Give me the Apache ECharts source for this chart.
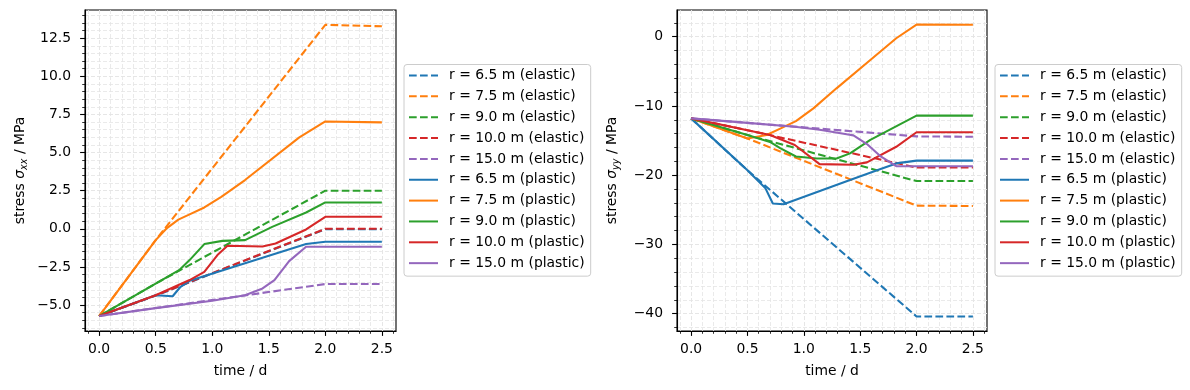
<!DOCTYPE html>
<html>
<head>
<meta charset="utf-8">
<script src="https://cdn.jsdelivr.net/npm/echarts@6/dist/echarts.min.js"></script>
<style>
html,body{margin:0;padding:0;background:#fff;}
#chart{width:1190px;height:390px;}
</style>
</head>
<body>
<div id="chart"></div>
<script>
// ---------- data ----------
const radii = ['6.5', '7.5', '9.0', '10.0', '15.0'];
const colors = ['#1f77b4', '#ff7f0e', '#2ca02c', '#d62728', '#9467bd'];

// time axis for the elastic solutions
const elasticTime = [0, 0.5, 2.0, 2.5];

// sigma_xx elastic
const sxxEl65 = [-5.72, -4.38, -0.02, -0.02];
const sxxEl75 = [-5.72, -0.74, 13.38, 13.28];
const sxxEl90 = [-5.72, -3.59, 2.50, 2.50];
const sxxEl100 = [-5.72, -4.36, 0.00, 0.00];
const sxxEl150 = [-5.72, -5.19, -3.62, -3.62];

// sigma_xx plastic
const sxxPl65T = [0, 0.5, 0.65, 0.72, 0.8, 1.83, 2.0, 2.5];
const sxxPl65 = [-5.72, -4.36, -4.42, -3.8, -3.41, -1.0, -0.85, -0.85];
const sxxPl75T = [0, 0.5, 0.6, 0.7, 0.8, 0.93, 1.08, 1.29, 1.77, 2.0, 2.5];
const sxxPl75 = [-5.72, -0.74, 0.05, 0.6, 0.95, 1.4, 2.1, 3.2, 6.0, 7.04, 6.98];
const sxxPl90T = [0, 0.5, 0.707, 0.8, 0.93, 1.09, 1.29, 1.53, 1.83, 2.0, 2.5];
const sxxPl90 = [-5.72, -3.59, -2.71, -2.05, -1.0, -0.79, -0.74, 0.13, 1.07, 1.73, 1.73];
const sxxPl100T = [0, 0.5, 0.8, 0.93, 1.046, 1.135, 1.445, 1.56, 1.83, 2.0, 2.5];
const sxxPl100 = [-5.72, -4.36, -3.36, -2.82, -1.72, -1.11, -1.16, -0.96, -0.04, 0.79, 0.79];
const sxxPl150T = [0, 0.5, 1.0, 1.29, 1.445, 1.55, 1.68, 1.83, 2.0, 2.5];
const sxxPl150 = [-5.72, -5.2, -4.72, -4.35, -3.91, -3.36, -2.12, -1.18, -1.18, -1.18];

// sigma_yy elastic
const syyEl65 = [-11.8, -19.3, -40.4, -40.4];
const syyEl75 = [-11.8, -14.7, -24.4, -24.45];
const syyEl90 = [-11.8, -14.2, -20.85, -20.85];
const syyEl100 = [-11.8, -13.5, -18.9, -18.9];
const syyEl150 = [-11.8, -12.45, -14.4, -14.45];

// sigma_yy plastic
const syyPl65T = [0, 0.5, 0.66, 0.725, 0.82, 1.41, 1.65, 1.82, 2.0, 2.5];
const syyPl65 = [-11.8, -19.3, -21.9, -24.1, -24.2, -20.7, -19.3, -18.3, -17.9, -17.9];
const syyPl75T = [0, 0.5, 0.67, 0.8, 0.93, 1.085, 1.29, 1.59, 1.82, 2.0, 2.5];
const syyPl75 = [-11.8, -14.7, -14.2, -13.2, -12.2, -10.35, -7.46, -3.37, -0.23, 1.75, 1.72];
const syyPl90T = [0, 0.5, 0.7, 0.79, 0.93, 1.115, 1.29, 1.41, 1.59, 2.0, 2.5];
const syyPl90 = [-11.8, -14.2, -15.2, -16.1, -17.3, -17.6, -17.6, -16.85, -14.9, -11.4, -11.4];
const syyPl100T = [0, 0.5, 0.7, 0.92, 1.14, 1.44, 1.56, 1.82, 2.0, 2.5];
const syyPl100 = [-11.8, -13.5, -14.2, -15.65, -18.4, -18.5, -18.15, -15.9, -13.8, -13.8];
const syyPl150T = [0, 0.5, 0.92, 1.14, 1.38, 1.44, 1.56, 1.675, 1.82, 2.0, 2.5];
const syyPl150 = [-11.8, -12.45, -13.0, -13.45, -14.1, -14.25, -15.5, -17.2, -18.7, -18.7, -18.7];

// ticks
const xMajor = [0, 0.5, 1.0, 1.5, 2.0, 2.5];
const yxxMajor = [-5, -2.5, 0, 2.5, 5, 7.5, 10, 12.5];
const yyyMajor = [-40, -30, -20, -10, 0];

function range(a, b, step) {
  const out = [];
  const n = Math.round((b - a) / step);
  for (let i = 0; i <= n; i++) out.push(Math.round((a + i * step) * 1000) / 1000);
  return out;
}
const xMinor = range(-0.1, 2.6, 0.1);
const yxxMinor = range(-6.5, 14.0, 0.5);
const yyyMinor = range(-42, 2, 2);

// ---------- chart ----------
const FONT = 'DejaVu Sans';
const FS = 13.9;
const LW = 2.08;
const DASH = [7.7, 3.3];
const gridColor = '#e4e4e4';
const minus = s => s.replace('-', '\u2212');

const elasticSets = {
  xx: [sxxEl65, sxxEl75, sxxEl90, sxxEl100, sxxEl150],
  yy: [syyEl65, syyEl75, syyEl90, syyEl100, syyEl150]
};
const plasticSets = {
  xx: [[sxxPl65T, sxxPl65], [sxxPl75T, sxxPl75], [sxxPl90T, sxxPl90], [sxxPl100T, sxxPl100], [sxxPl150T, sxxPl150]],
  yy: [[syyPl65T, syyPl65], [syyPl75T, syyPl75], [syyPl90T, syyPl90], [syyPl100T, syyPl100], [syyPl150T, syyPl150]]
};

const elNames = radii.map(r => 'r = ' + r + ' m (elastic)');
const plNames = radii.map(r => 'r = ' + r + ' m (plastic)');

const series = [];
['xx', 'yy'].forEach((k, gi) => {
  elasticSets[k].forEach((vals, i) => {
    series.push({
      name: elNames[i], type: 'line', xAxisIndex: gi * 2, yAxisIndex: gi * 2,
      symbol: 'none', showSymbol: false, animation: false,
      lineStyle: { color: colors[i], width: LW, type: DASH },
      itemStyle: { color: colors[i] },
      data: elasticTime.map((t, j) => [t, vals[j]])
    });
  });
  plasticSets[k].forEach((pair, i) => {
    series.push({
      name: plNames[i], type: 'line', xAxisIndex: gi * 2, yAxisIndex: gi * 2,
      symbol: 'none', showSymbol: false, animation: false,
      lineStyle: { color: colors[i], width: LW, type: 'solid' },
      itemStyle: { color: colors[i] },
      data: pair[0].map((t, j) => [t, pair[1][j]])
    });
  });
});

const splitStyle = { show: true, lineStyle: { color: gridColor, width: 0.8, type: [4, 2] } };
const labelStyle = { color: '#000', fontSize: FS, fontFamily: FONT };

function xAxes(g) {
  return [{
    type: 'value', gridIndex: g, min: -0.125, max: 2.625, position: 'bottom',
    axisLine: { show: true, onZero: false, lineStyle: { color: '#000', width: 1.1 } },
    axisTick: { show: true, customValues: xMajor, length: 4.9, lineStyle: { color: '#000', width: 1.1 } },
    axisLabel: Object.assign({ show: true, customValues: xMajor, margin: 11,
      formatter: v => minus(v.toFixed(1)) }, labelStyle),
    splitLine: splitStyle,
    name: 'time / d', nameLocation: 'middle', nameGap: 33,
    nameTextStyle: { color: '#000', fontSize: FS, fontFamily: FONT }
  }, {
    type: 'value', gridIndex: g, min: -0.125, max: 2.625, position: 'bottom', offset: 0,
    axisLine: { show: false, onZero: false },
    axisTick: { show: true, customValues: xMinor, length: 2.8, lineStyle: { color: '#000', width: 0.8 } },
    axisLabel: { show: false },
    splitLine: splitStyle
  }];
}

function yAxes(g, min, max, major, minor, dec, sub) {
  return [{
    type: 'value', gridIndex: g, min: min, max: max, position: 'left',
    axisLine: { show: true, onZero: false, lineStyle: { color: '#000', width: 1.1 } },
    axisTick: { show: true, customValues: major, length: 4.9, lineStyle: { color: '#000', width: 1.1 } },
    axisLabel: Object.assign({ show: true, customValues: major, margin: 14,
      formatter: v => minus(v.toFixed(dec)) }, labelStyle),
    splitLine: splitStyle,
    name: 'stress {i|σ}{s|' + sub + '} / MPa', nameLocation: 'middle', nameGap: 56,
    nameTextStyle: {
      color: '#000', fontSize: FS, fontFamily: FONT,
      rich: {
        i: { fontStyle: 'italic', fontSize: FS, fontFamily: FONT, color: '#000' },
        s: { fontStyle: 'italic', fontSize: 9.7, fontFamily: FONT, color: '#000', padding: [7, 0, 0, 0] }
      }
    }
  }, {
    type: 'value', gridIndex: g, min: min, max: max, position: 'left', offset: 0,
    axisLine: { show: false, onZero: false },
    axisTick: { show: true, customValues: minor, length: 2.8, lineStyle: { color: '#000', width: 0.8 } },
    axisLabel: { show: false },
    splitLine: splitStyle
  }];
}

function legend(left) {
  return {
    orient: 'vertical', left: left, top: 64.5,
    data: elNames.concat(plNames),
    itemWidth: 29, itemHeight: 14, itemGap: 6.85,
    padding: [4, 6, 6, 4],
    backgroundColor: 'rgba(255,255,255,0.8)',
    borderColor: '#cccccc', borderWidth: 1, borderRadius: 3,
    selectedMode: false,
    itemStyle: { opacity: 0, borderWidth: 0 },
    textStyle: { color: '#000', fontSize: FS, fontFamily: FONT, lineHeight: 14, padding: [0, 0, 0, 6] }
  };
}

const option = {
  animation: false,
  backgroundColor: '#ffffff',
  grid: [
    { left: 85, top: 10, width: 311, height: 321, show: true, borderColor: '#000', borderWidth: 1.1, containLabel: false },
    { left: 677, top: 10, width: 310, height: 321, show: true, borderColor: '#000', borderWidth: 1.1, containLabel: false }
  ],
  xAxis: xAxes(0).concat(xAxes(1)),
  yAxis: yAxes(0, -6.7, 14.35, yxxMajor, yxxMinor, 1, 'xx').concat(yAxes(1, -42.5, 3.85, yyyMajor, yyyMinor, 0, 'yy')),
  legend: [legend(404), legend(995)],
  series: series
};

const chart = echarts.init(document.getElementById('chart'), null, { renderer: 'canvas' });
chart.setOption(option);
</script>
</body>
</html>
